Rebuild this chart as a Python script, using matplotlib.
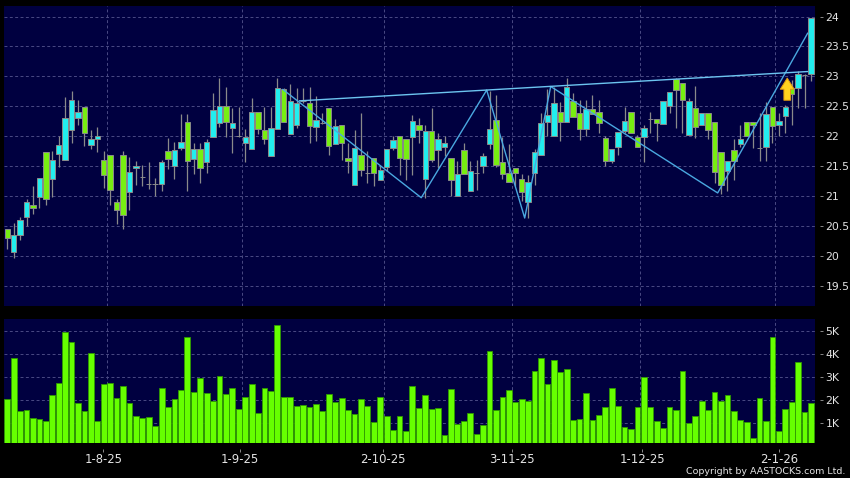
import matplotlib
matplotlib.use('Agg')
import matplotlib.pyplot as plt

# candles (cyan = up, green = down)
opens = [20.45,20.06,20.35,20.65,20.85,20.99,21.74,21.29,21.70,21.60,22.10,22.30,22.49,21.85,21.95,21.60,21.69,20.90,21.69,21.07,
         21.47,21.32,21.20,21.20,21.20,21.75,21.50,21.80,22.23,21.62,21.79,21.57,21.98,22.22,22.51,22.13,22.00,21.89,21.78,22.40,
         22.10,21.66,22.12,22.79,22.04,22.18,22.58,22.56,22.16,22.22,22.47,21.86,22.19,21.64,21.19,21.69,21.38,21.63,21.26,21.48,
         21.80,22.01,21.96,21.98,22.19,21.29,22.09,21.77,21.81,21.64,21.00,21.76,21.09,21.38,21.50,21.86,22.27,21.56,21.39,21.46,
         21.29,20.89,21.38,21.69,22.23,22.01,22.41,22.23,22.59,22.38,22.12,22.46,22.41,21.97,21.59,21.81,22.08,22.41,21.98,21.98,
         22.29,22.29,22.20,22.51,22.96,22.88,22.02,22.47,22.19,22.39,22.23,21.74,21.41,21.76,21.87,22.23,22.23,21.80,21.82,22.48,
         22.18,22.33,22.80,22.80,23.02,23.04]
closes = [20.29,20.34,20.60,20.90,20.79,21.30,20.95,21.60,21.85,22.30,22.60,22.40,22.05,21.95,22.00,21.35,21.10,20.76,20.68,21.40,
          21.50,21.32,21.20,21.20,21.57,21.61,21.76,21.90,21.58,21.79,21.47,21.90,22.43,22.51,22.23,22.22,22.00,21.98,22.40,22.12,
          21.96,22.13,22.80,22.23,22.58,22.56,22.58,22.17,22.27,22.22,21.84,22.17,21.88,21.58,21.80,21.44,21.38,21.39,21.44,21.78,
          21.94,21.64,21.61,22.26,22.11,22.09,21.60,21.96,21.88,21.27,21.36,21.36,21.41,21.38,21.66,22.12,21.51,21.36,21.24,21.38,
          21.06,21.24,21.74,22.22,22.36,22.56,22.23,22.82,22.32,22.12,22.46,22.37,22.22,21.59,21.78,22.07,22.26,22.05,21.81,22.13,
          22.29,22.22,22.59,22.73,22.77,22.61,22.58,22.16,22.39,22.11,21.40,21.19,21.58,21.59,21.95,22.01,22.18,21.80,22.37,22.17,
          22.26,22.49,22.71,23.04,23.02,23.97]
highs = [20.45,20.55,20.65,20.95,21.16,21.30,21.74,21.75,22.00,22.65,22.76,22.60,22.49,22.10,22.16,21.75,21.69,20.95,21.75,21.65,
         21.59,21.52,21.57,21.30,21.60,21.97,21.90,22.37,22.37,21.88,21.88,21.95,22.72,22.98,22.82,22.47,22.48,22.12,22.64,22.40,
         22.49,22.49,22.97,22.80,22.87,22.81,22.80,22.82,22.67,22.38,22.47,22.28,22.19,21.88,22.10,22.39,21.75,21.63,21.52,21.78,
         22.00,22.01,21.96,22.36,22.31,22.18,22.47,22.06,22.00,21.64,21.58,21.89,21.58,21.60,21.71,22.75,22.68,21.99,21.87,21.46,
         21.37,21.35,21.79,22.38,22.78,22.82,22.57,22.97,22.72,22.60,22.60,22.69,22.60,22.00,21.78,22.07,22.48,22.41,22.02,22.19,
         22.41,22.29,22.59,22.73,22.98,22.88,22.63,22.83,22.39,22.39,22.23,21.74,21.58,21.95,22.19,22.23,22.23,22.38,22.57,22.48,
         22.38,22.52,22.94,23.09,23.04,23.97]
lows = [20.11,19.96,20.26,20.49,20.69,20.79,20.84,20.99,21.49,21.60,21.89,22.19,21.84,21.79,21.74,21.14,20.84,20.53,20.44,20.77,
        21.18,21.16,21.12,21.00,21.09,21.45,21.28,21.77,21.08,21.36,21.21,21.39,21.98,22.16,21.98,21.71,21.99,21.57,21.78,22.04,
        21.86,21.66,22.12,22.23,22.04,22.13,22.55,21.89,21.91,22.20,21.68,21.86,21.60,21.38,21.19,21.33,21.21,21.17,21.26,21.41,
        21.77,21.35,21.27,21.35,21.88,20.96,21.57,21.46,21.66,21.00,21.00,21.36,21.09,21.10,21.38,21.79,21.49,21.29,21.24,21.16,
        20.91,20.63,21.18,21.69,22.00,22.01,21.91,22.23,22.32,21.94,22.00,22.37,22.05,21.50,21.55,21.68,22.05,22.05,21.81,21.56,
        22.05,21.91,22.20,22.38,22.13,22.05,22.02,21.97,22.19,21.95,21.22,21.04,21.08,21.26,21.81,22.01,21.80,21.58,21.59,21.88,
        22.00,22.06,22.19,22.47,22.47,22.93]
volumes = [2.04,3.85,1.55,1.59,1.23,1.17,1.10,2.22,2.77,4.96,4.54,1.87,1.52,4.06,1.10,2.72,2.74,2.10,2.62,1.87,
           1.30,1.23,1.26,0.88,2.52,1.72,2.07,2.45,4.74,2.36,2.99,2.32,1.96,3.07,2.29,2.54,1.64,2.13,2.70,1.43,
           2.54,2.39,5.28,2.14,2.14,1.75,1.78,1.70,1.84,1.54,2.28,1.93,2.12,1.58,1.42,2.04,1.75,1.06,2.14,1.30,
           0.71,1.33,0.68,2.64,1.67,2.25,1.61,1.67,0.51,2.49,0.96,1.12,1.43,0.55,0.93,4.16,1.57,2.13,2.45,1.91,
           2.04,1.97,3.29,3.86,2.70,3.74,3.22,3.36,1.13,1.17,2.33,1.14,1.36,1.70,2.54,1.77,0.83,0.77,1.70,3.01,
           1.70,1.09,0.80,1.71,1.57,3.28,1.00,1.33,1.97,1.57,2.38,1.97,2.23,1.52,1.13,1.04,0.36,2.09,1.10,4.75,
           0.65,1.64,1.93,3.67,1.51,1.90]

# zigzag and the long trend line (bar number, price)
zigzag_x = [42.87, 64.38, 74.56, 80.47, 84.51, 110.48, 124.47]
zigzag_y = [22.78, 20.97, 22.77, 20.63, 22.83, 21.05, 23.72]
trend_x = [45.47, 124.47]
trend_y = [22.59, 23.08]
arrow_x = 121.3
arrow_tip = 22.97
arrow_base = 22.6

date_labels = ['1-8-25', '1-9-25', '2-10-25', '3-11-25', '1-12-25', '2-1-26']
date_ticks = [14.93, 36.19, 58.43, 78.54, 98.76, 120.06]
grid_x = [15.46, 36.45, 58.54, 78.44, 98.44, 119.44]
price_ticks = [24, 23.5, 23, 22.5, 22, 21.5, 21, 20.5, 20, 19.5]
price_labels = ['24', '23.5', '23', '22.5', '22', '21.5', '21', '20.5', '20', '19.5']
vol_ticks = [5, 4, 3, 2, 1]
vol_labels = ['5K', '4K', '3K', '2K', '1K']

NAVY = '#000040'
GRID = '#4a4a84'
CYAN = '#22eeee'
GREEN = '#77ee11'
GREY = '#8a8a8a'
TXT = '#e4e4e4'
W, H = 850, 478
DASH = (0, (3, 2.5))

fig = plt.figure(figsize=(8.5, 4.78), dpi=100, facecolor='black')
ax = fig.add_axes([4/W, 1-306/H, 810.5/W, 300/H], facecolor=NAVY)
ax2 = fig.add_axes([4/W, 1-443/H, 810.5/W, 124/H], facecolor=NAVY)

for a in (ax, ax2):
    a.set_xlim(-0.513, 125.54)
    for gx in grid_x:
        a.axvline(gx, color=GRID, lw=0.7, ls=DASH, zorder=1)
    for s in a.spines.values():
        s.set_visible(False)
    a.yaxis.tick_right()
    a.spines['right'].set_position(('outward', 4))
    a.spines['bottom'].set_position(('outward', 4))
    a.tick_params(axis='y', colors=TXT, labelsize=7.8, length=2.2, width=0.7, pad=1.8, color=GREY)

ax.set_ylim(19.159, 24.176)
ax.set_yticks(price_ticks, price_labels)
ax.set_xticks([])
ax2.set_ylim(0.143, 5.535)
ax2.set_yticks(vol_ticks, vol_labels)
ax2.set_xticks(date_ticks, date_labels)
ax2.tick_params(axis='x', colors=TXT, labelsize=8.4, length=2.2, width=0.7, pad=1.2, color=GREY)
for a in (ax, ax2):
    a.grid(axis='y', color=GRID, lw=0.7, ls=DASH, zorder=1)
    a.set_axisbelow(True)

# candles
idx = list(range(len(opens)))
ax.vlines(idx, lows, highs, color=GREY, lw=0.9, zorder=2)
colors = [CYAN if c >= o else GREEN for o, c in zip(opens, closes)]
bottoms = [min(o, c) for o, c in zip(opens, closes)]
heights = [abs(c - o) for o, c in zip(opens, closes)]
ax.bar(idx, heights, bottom=bottoms, width=0.84, color=colors, edgecolor=GREY, linewidth=0.7, zorder=3)

# lines on top
ax.plot(zigzag_x, zigzag_y, color='#4aa8e0', lw=1, zorder=4)
ax.plot(trend_x, trend_y, color='#6cc4f0', lw=1, zorder=4)
ax.annotate('', xy=(arrow_x, arrow_tip), xytext=(arrow_x, arrow_base), zorder=5,
            arrowprops=dict(arrowstyle='simple,head_width=1.0,head_length=0.8,tail_width=0.48',
                            fc='#ffd21e', ec='#e09a10', lw=0.7, shrinkA=0, shrinkB=0, mutation_scale=10))

# volume
ax2.bar(idx, volumes, width=0.9, color='#66ff00', edgecolor='#2f9a00', linewidth=0.6, zorder=3)

fig.text(845/W, 1-471/H, 'Copyright by AASTOCKS.com Ltd.', color=TXT, fontsize=6.8, ha='right', va='center')

fig.savefig('out.png', dpi=100, facecolor='black')
